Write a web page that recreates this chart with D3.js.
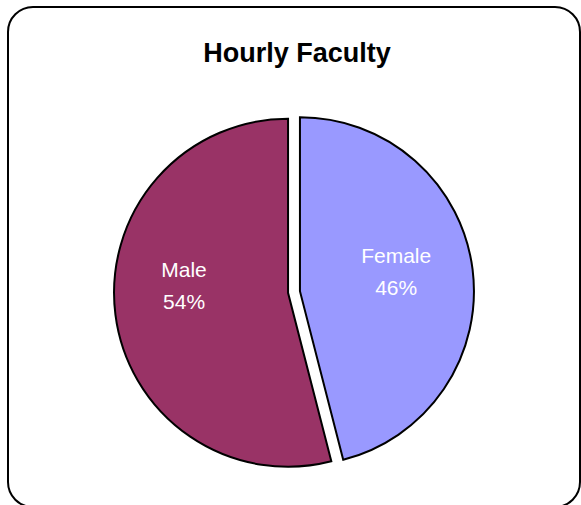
<!DOCTYPE html>
<html>
<head>
<meta charset="utf-8">
<script src="https://cdn.jsdelivr.net/npm/d3@7"></script>
<style>
  html, body { margin: 0; padding: 0; background: #fff; }
  svg { display: block; }
</style>
</head>
<body>
<svg id="chart" width="581" height="505"></svg>
<script>
const title = "Hourly Faculty";
const categories = ["Female", "Male"];
const values = [46, 54];
const colors = ["#9999FF", "#993366"];

const svg = d3.select("#chart");

// frame
svg.append("rect")
  .attr("x", 8).attr("y", 7)
  .attr("width", 572).attr("height", 500)
  .attr("rx", 25).attr("ry", 25)
  .attr("fill", "#fff").attr("stroke", "#000").attr("stroke-width", 2);

svg.append("text")
  .attr("x", 297).attr("y", 62)
  .attr("text-anchor", "middle")
  .attr("font-family", "Liberation Sans, Arial, sans-serif")
  .attr("font-weight", "bold")
  .attr("font-size", 27)
  .text(title);

const cx = 294, cy = 292, r = 174, explode = 6;
const data = categories.map((c, i) => ({ name: c, value: values[i], color: colors[i] }));
const pie = d3.pie().sort(null).value(d => d.value).startAngle(0).endAngle(2 * Math.PI);
const arcs = pie(data);
const arc = d3.arc().innerRadius(0).outerRadius(r);

// label placement (Excel style), angle overrides in layout only
const labelR = [97, 104];
const labelAngle = a => (a.data.name === "Male" ? 1.5 * Math.PI : (a.startAngle + a.endAngle) / 2);

const g = svg.append("g").attr("transform", `translate(${cx},${cy})`);
arcs.forEach((a, i) => {
  const mid = (a.startAngle + a.endAngle) / 2;
  const dx = Math.sin(mid) * explode, dy = -Math.cos(mid) * explode;
  const sg = g.append("g").attr("transform", `translate(${dx},${dy})`);
  sg.append("path")
    .attr("d", arc(a))
    .attr("fill", a.data.color)
    .attr("stroke", "#000")
    .attr("stroke-width", 2)
    .attr("stroke-linejoin", "miter");
  const la = labelAngle(a);
  const lx = Math.sin(la) * labelR[i], ly = -Math.cos(la) * labelR[i];
  const t = sg.append("text")
    .attr("text-anchor", "middle")
    .attr("font-family", "Liberation Sans, Arial, sans-serif")
    .attr("font-size", 21)
    .attr("fill", "#fff");
  t.append("tspan").attr("x", lx).attr("y", ly - 16).text(a.data.name);
  t.append("tspan").attr("x", lx).attr("y", ly + 16).text(Math.round(a.data.value) + "%");
});
</script>
</body>
</html>
